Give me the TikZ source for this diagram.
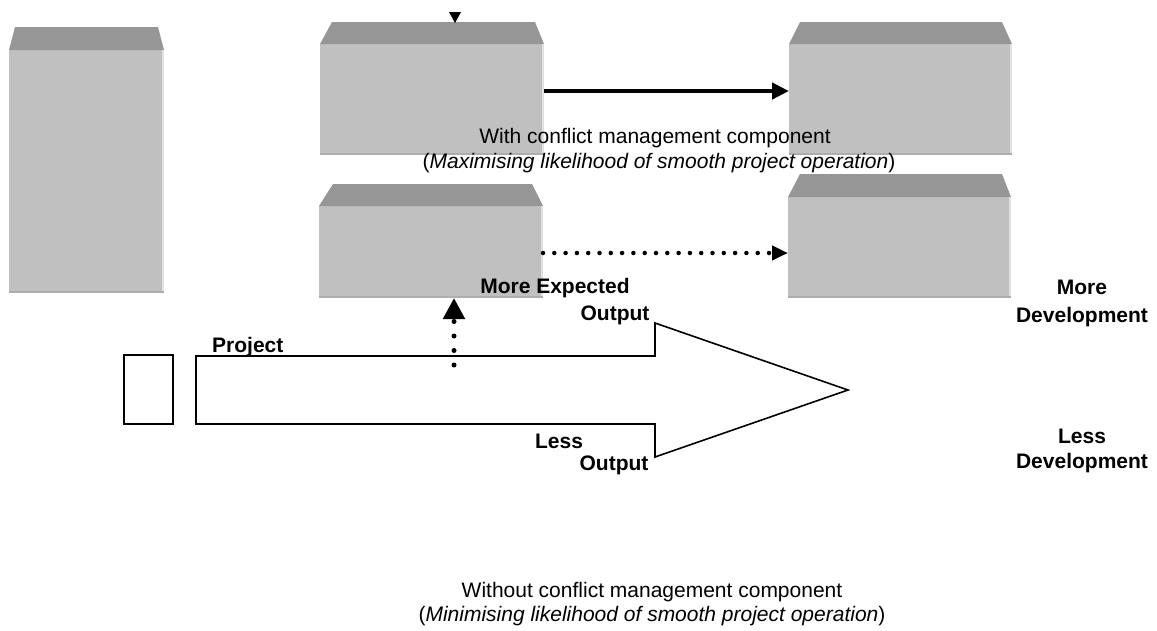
\documentclass[tikz,border=0pt]{standalone}
\usepackage{fontspec}
\setmainfont{Liberation Sans}
\usetikzlibrary{arrows.meta}
\definecolor{frontc}{HTML}{C0C0C0}
\definecolor{topc}{HTML}{969696}
\definecolor{edgec}{HTML}{E2E2E2}
\definecolor{botc}{HTML}{ADADAD}
\tikzset{
  front/.style={fill=frontc, draw=none, inner sep=0pt, outer sep=0pt, rectangle},
  txt/.style={font=\fontsize{21}{24}\selectfont, inner sep=0pt, anchor=base},
  btxt/.style={font=\fontsize{21}{24}\selectfont\bfseries, inner sep=0pt, anchor=base},
  solidarrow/.style={line width=4.5pt, -{Triangle[length=17pt,width=16pt]}},
  dotarrow/.style={line width=4.5pt, line cap=round, dash pattern=on 0pt off 11.3pt, -{Triangle[length=16pt,width=14pt]}},
  vdotarrow/.style={line width=5pt, line cap=round, dash pattern=on 0pt off 14.5pt, -{Triangle[length=21pt,width=21pt]}},
  outline/.style={draw=black, line width=1.6pt, line join=miter},
}
% name, x1, y1, x2, y2, inset left, inset right, top height
\newcommand\gbox[8]{%
  \node[front, minimum width={#4pt-#2pt}, minimum height={#5pt-#3pt}] (#1) at ({(#2+#4)/2},{(#3+#5)/2}) {};
  \fill[topc] ({#2},{#3}) -- ({#2+#6},{#3-#8}) -- ({#4-#7},{#3-#8}) -- ({#4},{#3}) -- cycle;
  \fill[edgec] ({#4-2},{#3}) rectangle ({#4},{#5});
  \fill[botc] ({#2},{#5-2}) rectangle ({#4},{#5});
}
\begin{document}
\begin{tikzpicture}[x=1pt,y=-1pt]
\useasboundingbox (0,0) rectangle (1157,630);
% boxes
\gbox{L}{9}{50}{164}{293}{6}{6}{23}
\gbox{A}{320}{44}{544}{155}{12}{9}{22}
\gbox{B}{789}{44}{1012}{155}{11}{10}{22}
\gbox{C}{319}{206}{543}{298}{14}{11}{22}
\gbox{D}{788}{197}{1011}{298}{12}{9}{23}
% small down triangle above box A
\fill[black] (449,12) -- (461,12) -- (455,23) -- cycle;
% arrows between boxes
\draw[solidarrow] ([yshift=8.5pt]A.east) -- ([yshift=8.5pt]B.west);
\coordinate (cs) at (543,253);
\coordinate (ce) at (788,253);
\draw[dotarrow] (cs) -- (ce);
% vertical dotted arrow
\coordinate (vb) at (454,365);
\draw[vdotarrow] (vb) -- (C.south -| vb);
% small rectangle
\node[outline, minimum width=49pt, minimum height=69pt, inner sep=0pt] (sr) at (148.5,389.5) {};
% big arrow
\draw[outline] (196,356) -- (655,356) -- (655,323) -- (848,390) -- (655,457) -- (655,424) -- (196,424) -- cycle;
% labels
\node[btxt, anchor=base west] (proj) at (212,352) {Project};
\node[btxt] (mex) at (555,293) {More Expected};
\node[btxt] (mout) at (615,320) {Output};
\node[btxt] (less) at (559,448) {Less};
\node[btxt] (lout) at (614,470) {Output};
\node[btxt] (rmore) at (1082,294) {More};
\node[btxt] (rdev1) at (1082,322) {Development};
\node[btxt] (rless) at (1082,443) {Less};
\node[btxt] (rdev2) at (1082,468) {Development};
\node[txt] (w1) at (655,143) {With conflict management component};
\node[txt] (w2) at (659,168) {(\textit{Maximising likelihood of smooth project operation})};
\node[txt] (wo1) at (652,597) {Without conflict management component};
\node[txt] (wo2) at (652,621) {(\textit{Minimising likelihood of smooth project operation})};
\end{tikzpicture}
\end{document}
